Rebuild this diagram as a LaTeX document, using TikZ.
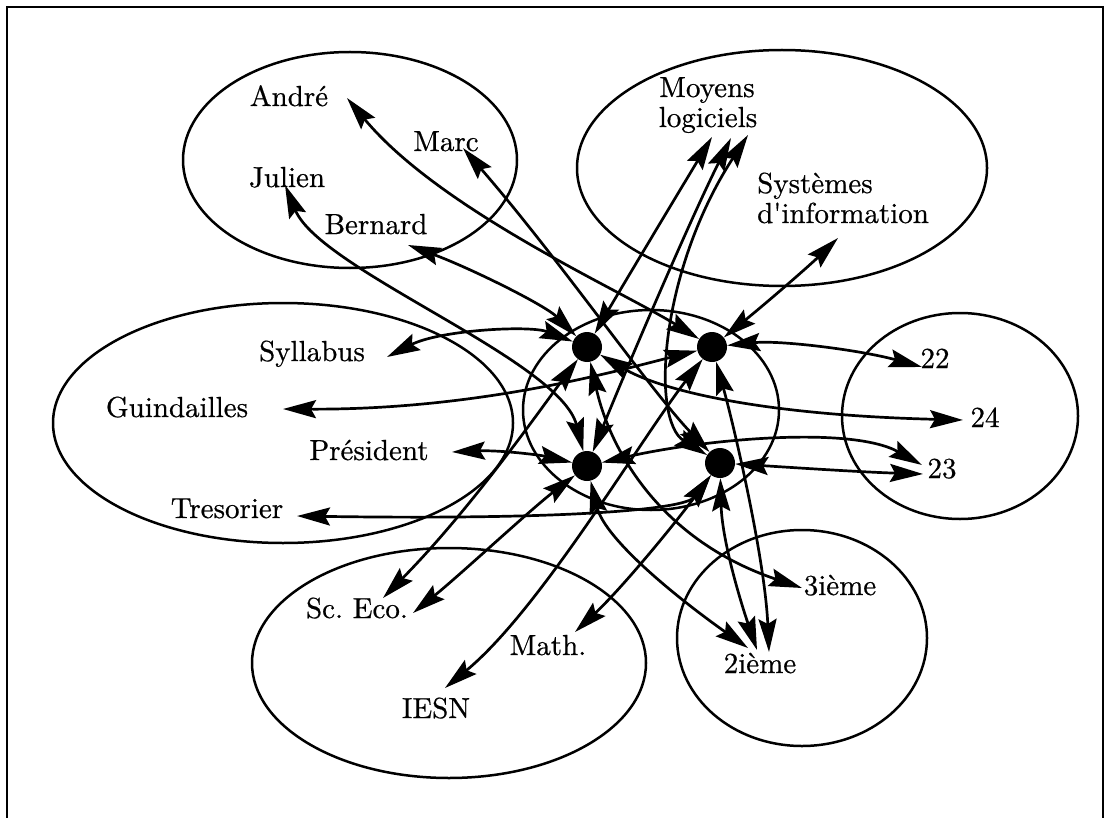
\documentclass[tikz,border=0pt]{standalone}
\usepackage{fontspec}
\setmainfont{lmroman10-regular}[Extension=.otf,FakeBold=0.6]
\usetikzlibrary{arrows.meta}
\frenchspacing
\begin{document}
\begin{tikzpicture}[x=1pt,y=-1pt,
  set/.style={draw,line width=2.5pt},
  frame/.style={draw,line width=1.6pt},
  conn/.style={line width=2.7pt,
    {Stealth[length=33pt,width=18pt,inset=5pt]}-{Stealth[length=33pt,width=18pt,inset=5pt]}},
  hub/.style={circle,fill=black,minimum size=30pt,inner sep=0pt},
  lbl/.style={font=\fontsize{29}{30}\selectfont,inner sep=0pt,anchor=base}]
\useasboundingbox (0,0) rectangle (1115,818);

% outer frame (open at the bottom)
\draw[frame] (7,818) -- (7,7) -- (1103,7) -- (1103,818);

% the sets
\draw[set] (350,160) ellipse [x radius=167pt, y radius=108pt];   % people
\draw[set] (782,168) ellipse [x radius=205pt, y radius=118pt];   % courses
\draw[set] (283,423) ellipse [x radius=230pt, y radius=120pt];   % roles
\draw[set] (651,410) ellipse [x radius=128pt, y radius=100pt];   % tuples
\draw[set] (960,416) ellipse [x radius=118pt, y radius=103pt];   % groups
\draw[set] (449,663) ellipse [x radius=197pt, y radius=115pt];   % schools
\draw[set] (802,638) ellipse [x radius=125pt, y radius=108pt];   % years

% labels
\node[lbl] (andre)    at (289,106) {André};
\node[lbl] (marc)     at (446,151) {Marc};
\node[lbl] (julien)   at (287,187) {Julien};
\node[lbl] (bernard)  at (376,234) {Bernard};
\node[lbl] (moyens)   at (707,97)  {Moyens};
\node[lbl] (logic)    at (708,127) {logiciels};
\node[lbl,anchor=base west] (systemes) at (757,193) {Systèmes};
\node[lbl,anchor=base west] (dinfo)    at (757,223) {d\textquotesingle information};
\node[lbl] (syllabus) at (312,361) {Syllabus};
\node[lbl] (guind)    at (177,417) {Guindailles};
\node[lbl] (pres)     at (369,460) {Président};
\node[lbl] (tres)     at (227,518) {Tresorier};
\node[lbl] (g22)      at (935,368) {22};
\node[lbl] (g24)      at (985,427) {24};
\node[lbl] (g23)      at (942,478) {23};
\node[lbl] (y3)       at (840,595) {3ième};
\node[lbl] (y2)       at (760,673) {2ième};
\node[lbl] (sceco)    at (357,618) {Sc. Eco.};
\node[lbl] (math)     at (548,655) {Math.};
\node[lbl] (iesn)     at (436,718) {IESN};

% arrow ends beside the labels
\coordinate (tAndre)  at (347,98);
\coordinate (tMarc)   at (463,148);
\coordinate (tJulien) at (285,185);
\coordinate (tBern)   at (408,245);
\coordinate (tM1)     at (712,137);
\coordinate (tM2)     at (731,138);
\coordinate (tM3)     at (748,135);
\coordinate (tSys)    at (838,238);
\coordinate (tSyl)    at (387,357);
\coordinate (tGuin)   at (283,409);
\coordinate (tPres)   at (452,452);
\coordinate (tTres)   at (297,516);
\coordinate (t22)     at (922,367);
\coordinate (t24)     at (963,420);
\coordinate (t23a)    at (922,465);
\coordinate (t23b)    at (923,474);
\coordinate (t3)      at (802,588);
\coordinate (tD1)     at (748,648);
\coordinate (tD2)     at (757,650);
\coordinate (tD3)     at (769,652);
\coordinate (tSE1)    at (383,598);
\coordinate (tSE2)    at (413,613);
\coordinate (tMath)   at (575,632);
\coordinate (tIesn)   at (445,688);

% the four tuples
\node[hub] (A) at (587,347) {};
\node[hub] (B) at (712,347) {};
\node[hub] (C) at (587,466) {};
\node[hub] (D) at (720,463) {};

% tuple A
\draw[conn] (A) .. controls (545,305) and (470,268) .. (tBern);
\draw[conn] (A) .. controls (530,325) and (440,330) .. (tSyl);
\draw[conn] (A) .. controls (660,390) and (760,415) .. (t24);
\draw[conn] (A) .. controls (620,290) and (680,190) .. (tM1);
\draw[conn] (A) .. controls (610,450) and (660,540) .. (t3);
\draw[conn] (A) .. controls (540,410) and (470,510) .. (tSE1);

% tuple B
\draw[conn] (B) .. controls (620,290) and (440,210) .. (tAndre);
\draw[conn] (B) .. controls (770,300) and (810,265) .. (tSys);
\draw[conn] (B) .. controls (780,340) and (860,350) .. (t22);
\draw[conn] (B) .. controls (620,370) and (480,410) .. (tGuin);
\draw[conn] (B) .. controls (640,440) and (540,610) .. (tIesn);
\draw[conn] (B) .. controls (735,430) and (765,560) .. (tD3);

% tuple C
\draw[conn] (C) .. controls (560,360) and (320,270) .. (tJulien);
\draw[conn] (C) .. controls (540,455) and (500,450) .. (tPres);
\draw[conn] (C) .. controls (700,440) and (850,425) .. (t23a);
\draw[conn] (C) .. controls (630,360) and (690,220) .. (tM2);
\draw[conn] (C) .. controls (530,510) and (460,575) .. (tSE2);
\draw[conn] (C) .. controls (605,540) and (680,600) .. (tD1);

% tuple D
\draw[conn] (D) .. controls (650,390) and (560,260) .. (tMarc);
\draw[conn] (D) .. controls (685,510) and (560,520) .. (tTres);
\draw[conn] (D) .. controls (800,468) and (860,472) .. (t23b);
\draw[conn] (D) .. controls (670,530) and (620,590) .. (tMath);
\draw[conn] (D) .. controls (722,540) and (740,600) .. (tD2);
\draw[conn] (D) .. controls (650,420) and (660,270) .. (tM3);
\end{tikzpicture}
\end{document}
